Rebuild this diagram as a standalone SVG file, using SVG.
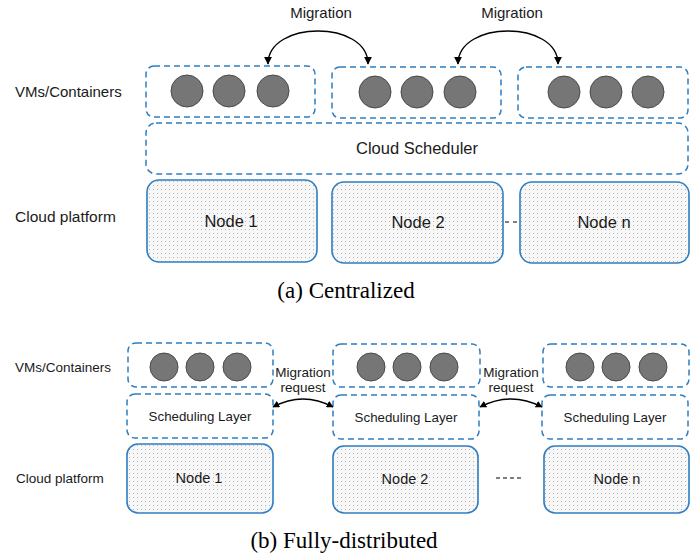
<svg xmlns="http://www.w3.org/2000/svg" width="700" height="557" viewBox="0 0 700 557">
<defs>
<pattern id="dots" width="4" height="4" patternUnits="userSpaceOnUse">
<rect width="4" height="4" fill="#f7f7f7"/>
<rect x="1" y="1" width="1" height="1" fill="#b4b4b4"/>
</pattern>
<marker id="ah" viewBox="0 0 10 10" refX="9" refY="5" markerWidth="8" markerHeight="8" markerUnits="userSpaceOnUse" orient="auto-start-reverse">
<path d="M0,0 L10,5 L0,10 z" fill="#000"/>
</marker>
<marker id="ahs" viewBox="0 0 10 10" refX="9" refY="5" markerWidth="7" markerHeight="7" markerUnits="userSpaceOnUse" orient="auto-start-reverse">
<path d="M0,0 L10,5 L0,10 z" fill="#000"/>
</marker>
</defs>
<style>
.dash{fill:#fff;stroke:#2f7dc0;stroke-width:1.5;stroke-dasharray:6 4}
.node{fill:url(#dots);stroke:#2f7dc0;stroke-width:1.6}
.vm{fill:#767676;stroke:#4a4a4a;stroke-width:1}
.t{font-family:"Liberation Sans",Arial,sans-serif;fill:#1a1a1a}
.cap{font-family:"Liberation Serif","Times New Roman",serif;fill:#000;font-size:23px}
.arc{fill:none;stroke:#000;stroke-width:1.4}
</style>
<rect width="700" height="557" fill="#fff"/>

<!-- (a) Centralized -->
<text class="t" x="15" y="97" font-size="15">VMs/Containers</text>
<text class="t" x="15" y="222" font-size="15.5">Cloud platform</text>

<g id="a-vm1">
<rect class="dash" x="146" y="66" width="169" height="51" rx="8"/>
<circle class="vm" cx="187" cy="91" r="16"/><circle class="vm" cx="229" cy="91" r="16"/><circle class="vm" cx="273" cy="91" r="16"/>
</g>
<g id="a-vm2">
<rect class="dash" x="332" y="67" width="169" height="51" rx="8"/>
<circle class="vm" cx="375" cy="92" r="16"/><circle class="vm" cx="417" cy="92" r="16"/><circle class="vm" cx="460" cy="92" r="16"/>
</g>
<g id="a-vm3">
<rect class="dash" x="518" y="67" width="170" height="51" rx="8"/>
<circle class="vm" cx="564" cy="92" r="16"/><circle class="vm" cx="606" cy="92" r="16"/><circle class="vm" cx="648" cy="92" r="16"/>
</g>
<g id="a-scheduler">
<rect class="dash" x="146" y="123" width="542" height="51" rx="10"/>
<text class="t" x="417" y="154" font-size="16.5" text-anchor="middle">Cloud Scheduler</text>
</g>
<g id="a-node1">
<rect class="node" x="147" y="180" width="170" height="82" rx="12"/>
<text class="t" x="231" y="227" font-size="16.5" text-anchor="middle">Node 1</text>
</g>
<g id="a-node2">
<rect class="node" x="332" y="182" width="171" height="81" rx="12"/>
<text class="t" x="418" y="228" font-size="16.5" text-anchor="middle">Node 2</text>
</g>
<g id="a-noden">
<rect class="node" x="520" y="182" width="169" height="81" rx="12"/>
<text class="t" x="604" y="228" font-size="16.5" text-anchor="middle">Node n</text>
</g>
<line x1="505" y1="222" x2="518" y2="222" stroke="#000" stroke-width="1" stroke-dasharray="4 4"/>

<g id="a-connectors">
<path class="arc" d="M268,64 C268,20 368,20 368,64" marker-start="url(#ah)" marker-end="url(#ah)"/>
<path class="arc" d="M458,64 C458,20 558,20 558,64" marker-start="url(#ah)" marker-end="url(#ah)"/>
<text class="t" x="321" y="18" font-size="15" text-anchor="middle">Migration</text>
<text class="t" x="512" y="18" font-size="15" text-anchor="middle">Migration</text>
</g>
<text class="cap" x="346" y="298" text-anchor="middle">(a)  Centralized</text>

<!-- (b) Fully-distributed -->
<text class="t" x="15" y="372" font-size="13.5">VMs/Containers</text>
<text class="t" x="16" y="483" font-size="13.5">Cloud platform</text>

<g id="b-vm1">
<rect class="dash" x="128" y="343" width="145" height="44" rx="8"/>
<circle class="vm" cx="164" cy="367" r="14"/><circle class="vm" cx="200" cy="367" r="14"/><circle class="vm" cx="237" cy="367" r="14"/>
</g>
<g id="b-sched1">
<rect class="dash" x="127" y="394" width="146" height="44" rx="8"/>
<text class="t" x="200" y="421" font-size="13.3" text-anchor="middle">Scheduling Layer</text>
</g>
<g id="b-node1">
<rect class="node" x="127" y="444" width="146" height="69" rx="11"/>
<text class="t" x="199" y="483" font-size="14.5" text-anchor="middle">Node 1</text>
</g>

<g id="b-vm2">
<rect class="dash" x="333" y="344" width="147" height="43" rx="8"/>
<circle class="vm" cx="371" cy="367" r="14"/><circle class="vm" cx="407" cy="367" r="14"/><circle class="vm" cx="444" cy="367" r="14"/>
</g>
<g id="b-sched2">
<rect class="dash" x="333" y="395" width="146" height="44" rx="8"/>
<text class="t" x="406" y="422" font-size="13.3" text-anchor="middle">Scheduling Layer</text>
</g>
<g id="b-node2">
<rect class="node" x="333" y="446" width="145" height="67" rx="11"/>
<text class="t" x="405" y="484" font-size="14.5" text-anchor="middle">Node 2</text>
</g>

<g id="b-vm3">
<rect class="dash" x="543" y="344" width="146" height="43" rx="8"/>
<circle class="vm" cx="580" cy="367" r="14"/><circle class="vm" cx="616" cy="367" r="14"/><circle class="vm" cx="653" cy="367" r="14"/>
</g>
<g id="b-sched3">
<rect class="dash" x="542" y="395" width="146" height="44" rx="8"/>
<text class="t" x="615" y="422" font-size="13.3" text-anchor="middle">Scheduling Layer</text>
</g>
<g id="b-noden">
<rect class="node" x="544" y="446" width="145" height="67" rx="11"/>
<text class="t" x="617" y="484" font-size="14.5" text-anchor="middle">Node n</text>
</g>
<line x1="496" y1="478" x2="523" y2="478" stroke="#000" stroke-width="1" stroke-dasharray="4 3"/>

<g id="b-connectors">
<path class="arc" d="M273,407 Q303,391 333,407" stroke-width="1" marker-start="url(#ahs)" marker-end="url(#ahs)"/>
<path class="arc" d="M480,407 Q511,391 542,407" stroke-width="1" marker-start="url(#ahs)" marker-end="url(#ahs)"/>
<text class="t" x="303" y="377" font-size="13.5" text-anchor="middle">Migration</text>
<text class="t" x="303" y="392" font-size="13.5" text-anchor="middle">request</text>
<text class="t" x="511" y="377" font-size="13.5" text-anchor="middle">Migration</text>
<text class="t" x="511" y="392" font-size="13.5" text-anchor="middle">request</text>
</g>
<text class="cap" x="344" y="548" text-anchor="middle" font-size="24">(b)  Fully-distributed</text>
</svg>
